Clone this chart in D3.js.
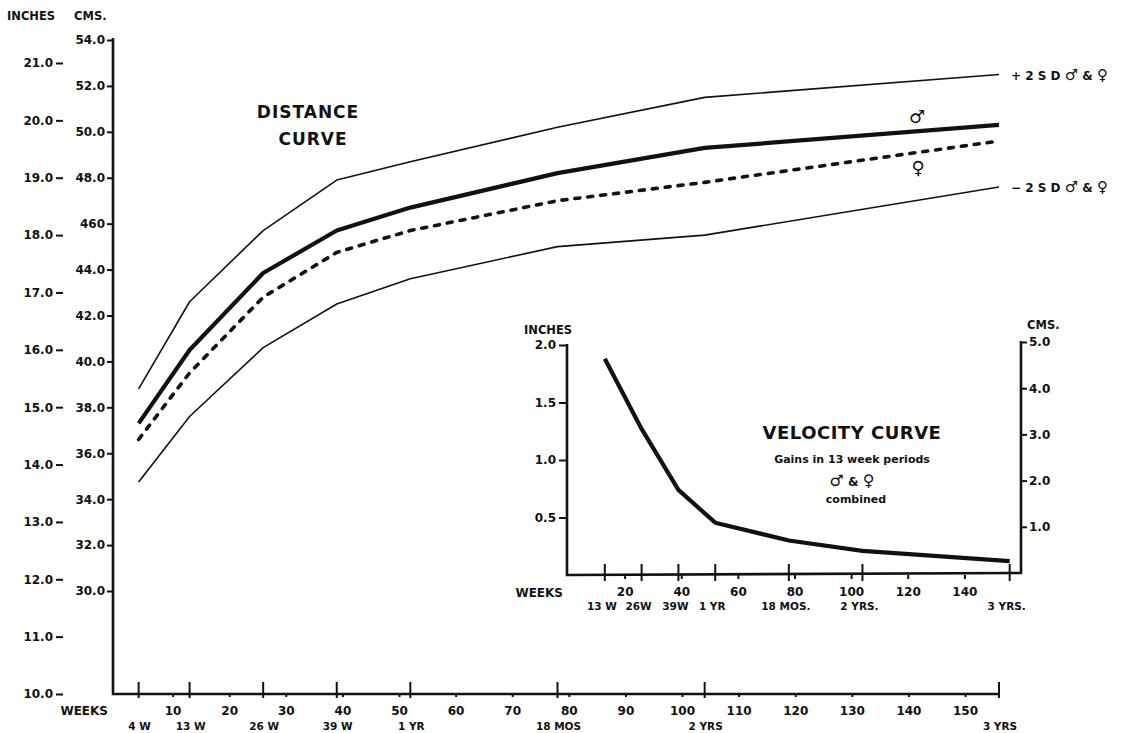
<!DOCTYPE html>
<html>
<head>
<meta charset="utf-8">
<script src="https://cdn.jsdelivr.net/npm/d3@7"></script>
<style>
  body { margin: 0; background: #fff; }
  svg { display: block; }
  text { font-family: 'DejaVu Sans', sans-serif; font-weight: bold; fill: #111; }
  .axis path.domain { display: none; }
  .axis line { stroke: #111; stroke-width: 2; }
</style>
</head>
<body>
<script>

// distance curve, cms at each age in weeks
let ageWeeks = [4, 13, 26, 39, 52, 78, 104, 156];
let plus2sd  = [38.8, 42.6, 45.7, 47.9, 48.7, 50.2, 51.5, 52.5];
let maleCms  = [37.3, 40.5, 43.85, 45.7, 46.7, 48.2, 49.3, 50.3];
let femaleCms = [36.6, 39.5, 42.8, 44.75, 45.7, 47.0, 47.8, 49.6];
let minus2sd = [34.75, 37.6, 40.6, 42.5, 43.6, 45.0, 45.5, 47.6];

// velocity curve, inches gained per 13 week period (both sexes)
let velWeeks  = [13, 26, 39, 52, 78, 104, 156];
let velInches = [1.88, 1.27, 0.74, 0.455, 0.30, 0.21, 0.12];

let cmTicks  = [30, 32, 34, 36, 38, 40, 42, 44, 46, 48, 50, 52, 54];
let cmLabels = ['30.0', '32.0', '34.0', '36.0', '38.0', '40.0', '42.0', '44.0', '460', '48.0', '50.0', '52.0', '54.0'];
let inchTicks = [10, 11, 12, 13, 14, 15, 16, 17, 18, 19, 20, 21];
let weekTicks = [10, 20, 30, 40, 50, 60, 70, 80, 90, 100, 110, 120, 130, 140, 150];
let milestoneWeeks  = [4, 13, 26, 39, 52, 78, 104, 156];
let milestoneLabels = ['4 W', '13 W', '26 W', '39 W', '1 YR', '18 MOS', '2 YRS', '3 YRS'];

let velInchTicks = [0.5, 1.0, 1.5, 2.0];
let velCmTicks   = [1, 2, 3, 4, 5];
let velWeekTicks = [20, 40, 60, 80, 100, 120, 140];
let velMilestoneWeeks  = [13, 26, 39, 52, 78, 104, 156];
let velMilestoneLabels = ['13 W', '26W', '39W', '1 YR', '18 MOS.', '2 YRS.', '3 YRS.'];

let svg = d3.select('body').append('svg')
    .attr('width', 1130)
    .attr('height', 733);

svg.append('rect').attr('width', 1130).attr('height', 733).attr('fill', '#fff');

// ---- main distance chart ----
let x = d3.scaleLinear().domain([0, 156]).range([116, 999]);
let yCm = d3.scaleLinear().domain([30, 54]).range([591, 40]);
let yIn = d3.scaleLinear().domain([10, 21]).range([694, 63]);

svg.append('path')
    .attr('d', 'M113,38 L113,694 L999,694')
    .attr('fill', 'none')
    .attr('stroke', '#111')
    .attr('stroke-width', 2.6);

svg.append('g')
    .attr('class', 'axis')
    .attr('transform', 'translate(113,0)')
    .call(d3.axisLeft(yCm).tickValues(cmTicks)
        .tickFormat((d, i) => cmLabels[i]).tickSize(6).tickPadding(2))
    .selectAll('text').style('font-size', '12px');

svg.append('g')
    .attr('class', 'axis')
    .attr('transform', 'translate(63,0)')
    .call(d3.axisLeft(yIn).tickValues(inchTicks)
        .tickFormat(d => d.toFixed(1)).tickSize(7).tickPadding(3))
    .selectAll('text').style('font-size', '12px');

svg.append('g')
    .attr('class', 'axis')
    .attr('transform', 'translate(0,694)')
    .call(d3.axisBottom(x).tickValues(weekTicks).tickSize(3).tickPadding(9))
    .selectAll('text').style('font-size', '12px');

svg.selectAll('.milestone')
    .data(milestoneWeeks)
    .enter().append('line')
    .attr('class', 'milestone')
    .attr('x1', d => x(d)).attr('x2', d => x(d))
    .attr('y1', 682).attr('y2', 698)
    .attr('stroke', '#111').attr('stroke-width', 2);

svg.selectAll('.milestone-label')
    .data(milestoneWeeks)
    .enter().append('text')
    .attr('class', 'milestone-label')
    .attr('x', d => x(d) + 1)
    .attr('y', 730)
    .attr('text-anchor', 'middle')
    .style('font-size', '10.5px')
    .text((d, i) => milestoneLabels[i]);

svg.append('text').attr('x', 108).attr('y', 715).attr('text-anchor', 'end')
    .style('font-size', '12px').text('WEEKS');
svg.append('text').attr('x', 7).attr('y', 20).style('font-size', '11.5px').text('INCHES');
svg.append('text').attr('x', 74).attr('y', 20).style('font-size', '11.5px').text('CMS.');

let distLine = d3.line()
    .x((d, i) => x(ageWeeks[i]))
    .y(d => yCm(d));

let series = [
    {vals: plus2sd, width: 1.6, dash: null},
    {vals: minus2sd, width: 1.6, dash: null},
    {vals: maleCms, width: 4.2, dash: null},
    {vals: femaleCms, width: 3.6, dash: '5,8'}
];

series.forEach(s => {
    svg.append('path')
        .attr('d', distLine(s.vals))
        .attr('fill', 'none')
        .attr('stroke', '#111')
        .attr('stroke-width', s.width)
        .attr('stroke-linecap', s.dash ? 'round' : 'butt')
        .attr('stroke-linejoin', 'round')
        .attr('stroke-dasharray', s.dash);
});

svg.append('text').attr('x', 308).attr('y', 118).attr('text-anchor', 'middle')
    .style('font-size', '17px').style('letter-spacing', '1px').text('DISTANCE');
svg.append('text').attr('x', 313).attr('y', 145).attr('text-anchor', 'middle')
    .style('font-size', '17px').style('letter-spacing', '1px').text('CURVE');

function sdLabel(sign, y) {
    let t = svg.append('text').attr('x', 1011).attr('y', y).style('font-size', '12px');
    t.append('tspan').text(sign + ' 2 S D ');
    t.append('tspan').style('font-size', '15px').text('\u2642');
    t.append('tspan').text(' & ');
    t.append('tspan').style('font-size', '15px').text('\u2640');
}
sdLabel('+', 80);
sdLabel('\u2212', 192);

svg.append('text').attr('x', 917).attr('y', 123).attr('text-anchor', 'middle')
    .style('font-size', '18px').style('font-weight', 'normal').text('\u2642');
svg.append('text').attr('x', 918).attr('y', 174).attr('text-anchor', 'middle')
    .style('font-size', '18px').style('font-weight', 'normal').text('\u2640');

// ---- inset velocity chart ----
let xv = d3.scaleLinear().domain([0, 160]).range([568, 1021]);
let yvIn = d3.scaleLinear().domain([0, 2]).range([575, 345]);
let yvCm = d3.scaleLinear().domain([0, 5]).range([573, 342]);

svg.append('path')
    .attr('d', 'M567,344 L567,575 L1021,573 L1021,341')
    .attr('fill', 'none')
    .attr('stroke', '#111')
    .attr('stroke-width', 2.6);

svg.append('g')
    .attr('class', 'axis')
    .attr('transform', 'translate(567,0)')
    .call(d3.axisLeft(yvIn).tickValues(velInchTicks)
        .tickFormat(d => d.toFixed(1)).tickSize(8).tickPadding(3))
    .selectAll('text').style('font-size', '12px');

svg.append('g')
    .attr('class', 'axis')
    .attr('transform', 'translate(1021,0)')
    .call(d3.axisRight(yvCm).tickValues(velCmTicks)
        .tickFormat(d => d.toFixed(1)).tickSize(6).tickPadding(2))
    .selectAll('text').style('font-size', '12px');

svg.append('g')
    .attr('class', 'axis')
    .attr('transform', 'translate(0,575)')
    .call(d3.axisBottom(xv).tickValues(velWeekTicks).tickSize(4).tickPadding(8))
    .selectAll('text').style('font-size', '12px');

svg.selectAll('.vmilestone')
    .data(velMilestoneWeeks)
    .enter().append('line')
    .attr('class', 'vmilestone')
    .attr('x1', d => xv(d)).attr('x2', d => xv(d))
    .attr('y1', 564).attr('y2', 581)
    .attr('stroke', '#111').attr('stroke-width', 2);

svg.selectAll('.vmilestone-label')
    .data(velMilestoneWeeks)
    .enter().append('text')
    .attr('class', 'vmilestone-label')
    .attr('x', d => xv(d) - 3)
    .attr('y', 610)
    .attr('text-anchor', 'middle')
    .style('font-size', '10.5px')
    .text((d, i) => velMilestoneLabels[i]);

svg.append('text').attr('x', 563).attr('y', 597).attr('text-anchor', 'end')
    .style('font-size', '12px').text('WEEKS');
svg.append('text').attr('x', 524).attr('y', 334).style('font-size', '11.5px').text('INCHES');
svg.append('text').attr('x', 1027).attr('y', 329).style('font-size', '11.5px').text('CMS.');

let velLine = d3.line()
    .x((d, i) => xv(velWeeks[i]))
    .y(d => yvIn(d));

svg.append('path')
    .attr('d', velLine(velInches))
    .attr('fill', 'none')
    .attr('stroke', '#111')
    .attr('stroke-width', 4.2)
    .attr('stroke-linejoin', 'round');

svg.append('text').attr('x', 852).attr('y', 439).attr('text-anchor', 'middle')
    .style('font-size', '18px').style('letter-spacing', '0.5px').text('VELOCITY CURVE');
svg.append('text').attr('x', 852).attr('y', 463).attr('text-anchor', 'middle')
    .style('font-size', '11px').text('Gains in 13 week periods');

let sexes = svg.append('text').attr('x', 852).attr('y', 486).attr('text-anchor', 'middle')
    .style('font-size', '12px');
sexes.append('tspan').style('font-size', '16px').style('font-weight', 'normal').text('\u2642');
sexes.append('tspan').text(' & ');
sexes.append('tspan').style('font-size', '16px').style('font-weight', 'normal').text('\u2640');

svg.append('text').attr('x', 856).attr('y', 503).attr('text-anchor', 'middle')
    .style('font-size', '11px').text('combined');

</script>
</body>
</html>
